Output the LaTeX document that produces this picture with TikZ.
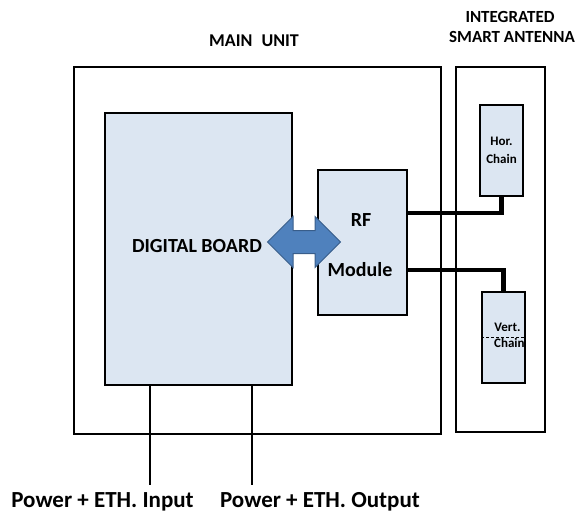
\documentclass[tikz,border=0pt]{standalone}
\usepackage{fontspec}
\setmainfont{Carlito}
\usepackage{xcolor}
\usepackage{tikz}
\usetikzlibrary{arrows.meta, positioning, shapes.arrows, calc}

\definecolor{boardfill}{HTML}{DCE6F2}
\definecolor{arrowfill}{HTML}{4F81BD}
\definecolor{arrowdraw}{HTML}{385D8A}

\begin{document}
\begin{tikzpicture}[
    x=1pt, y=-1pt,
    frame/.style={
        rectangle,
        draw,
        line width=1.6pt,
        inner sep=0pt
    },
    block/.style={
        rectangle,
        draw,
        line width=1.6pt,
        fill=boardfill,
        inner sep=0pt,
        align=center,
        font=\bfseries
    },
    cable/.style={
        line width=4.5pt
    },
    wire/.style={
        line width=1.4pt
    },
    title/.style={
        font=\fontsize{18}{21}\selectfont\bfseries,
        align=center
    },
    big/.style={
        font=\fontsize{20}{24}\selectfont\bfseries
    },
    small/.style={
        font=\fontsize{13}{15}\selectfont\bfseries
    }
]
\useasboundingbox (0,0) rectangle (579,519);

% === Frames ===
\node[frame, minimum width=367pt, minimum height=367pt] (mainunit) at (257.5,250.5) {};
\node[frame, minimum width=89pt, minimum height=365pt] (antenna) at (500.5,249.5) {};

% === Boards ===
\node[block, minimum width=187pt, minimum height=272pt] (board) at (198.5,249) {};
\node[block, minimum width=89pt, minimum height=145pt] (rf) at (362.5,242.5) {};
\node[block, minimum width=43pt, minimum height=91pt, font=\fontsize{13}{18}\selectfont\bfseries] (hor) at (501.5,150.5) {Hor.\\Chain};
\node[block, minimum width=43pt, minimum height=91pt] (vert) at (503.5,337.5) {};

% === Texts ===
\node[title] (mainlbl) at (254,41) {MAIN\hspace{0.5em}UNIT};
\node[title, font=\fontsize{17}{20}\selectfont\bfseries] (antlbl1) at (510,17) {INTEGRATED};
\node[title, font=\fontsize{17}{20}\selectfont\bfseries] (antlbl2) at (512,37) {SMART ANTENNA};
\node[big] (boardlbl) at (197,246) {DIGITAL BOARD};
\node[big] (rflbl) at (361,220) {RF};
\node[big] (modlbl) at (360,270) {Module};
\node[small, anchor=south east, inner sep=0pt] (vertlbl) at ($(vert.east)+(-5,-6)$) {Vert.};
\node[small, anchor=north east, inner sep=0pt] (chainlbl) at ($(vert.east)+(-1,1)$) {Chain};
\draw[densely dashed, line width=0.5pt] (vert.west) -- (vert.east);

% === Double arrow board <-> RF ===
\node[double arrow, fill=arrowfill, draw=arrowdraw, line width=1pt,
      inner xsep=0pt, inner ysep=11pt, minimum height=73pt,
      double arrow head extend=14pt, double arrow tip angle=90] (link) at (304,242) {};

% === Cables RF -> antenna ===
\draw[cable] ($(rf.east)+(0,-29.5)$) -| (hor.south);
\draw[cable] ($(rf.east)+(0,27.5)$) -| (vert.north);

% === Power lines ===
\coordinate (inend) at (150,485);
\coordinate (outend) at (252,485);
\draw[wire] (board.south -| inend) -- (inend);
\draw[wire] (board.south -| outend) -- (outend);

\node[font=\fontsize{23}{26}\selectfont\bfseries] (inlbl) at (102.5,502) {Power + ETH. Input};
\node[font=\fontsize{23}{26}\selectfont\bfseries] (outlbl) at (320,502) {Power + ETH. Output};

\end{tikzpicture}
\end{document}
